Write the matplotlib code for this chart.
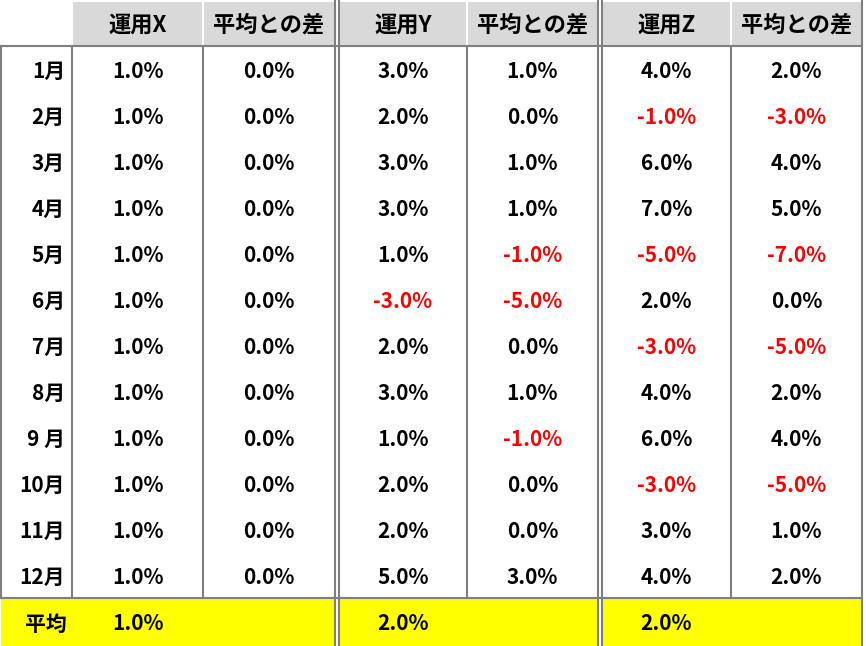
import matplotlib.pyplot as plt
from matplotlib.patches import Rectangle

plt.rcParams['font.family'] = ['Noto Sans CJK JP', 'DejaVu Sans']

months = ['1月', '2月', '3月', '4月', '5月', '6月', '7月', '8月', '9 月', '10月', '11月', '12月']
headers = ['運用X', '平均との差', '運用Y', '平均との差', '運用Z', '平均との差']
avg_label = '平均'

fund_x = [1.0, 1.0, 1.0, 1.0, 1.0, 1.0, 1.0, 1.0, 1.0, 1.0, 1.0, 1.0]
diff_x = [0.0, 0.0, 0.0, 0.0, 0.0, 0.0, 0.0, 0.0, 0.0, 0.0, 0.0, 0.0]
fund_y = [3.0, 2.0, 3.0, 3.0, 1.0, -3.0, 2.0, 3.0, 1.0, 2.0, 2.0, 5.0]
diff_y = [1.0, 0.0, 1.0, 1.0, -1.0, -5.0, 0.0, 1.0, -1.0, 0.0, 0.0, 3.0]
fund_z = [4.0, -1.0, 6.0, 7.0, -5.0, 2.0, -3.0, 4.0, 6.0, -3.0, 3.0, 4.0]
diff_z = [2.0, -3.0, 4.0, 5.0, -7.0, 0.0, -5.0, 2.0, 4.0, -5.0, 1.0, 2.0]
averages = [1.0, 2.0, 2.0]

columns = [fund_x, diff_x, fund_y, diff_y, fund_z, diff_z]

# layout in pixel coordinates
col_bounds = [(72, 203), (203, 335), (339, 467), (467, 598), (602, 731), (731, 862)]
head_top, head_bot = 2, 46
row_h = 46
avg_top, avg_bot = 598, 646

grid = '#7f7f7f'
head_bg = '#d9d9d9'
yellow = '#ffff00'
red = '#ff0000'
fs = 15
fs_head = 16
dy = 2  # small downward nudge of the text

fig = plt.figure(figsize=(8.66, 6.46), dpi=100)
ax = fig.add_axes([0, 0, 1, 1])
ax.set_xlim(0, 866)
ax.set_ylim(646, 0)
ax.axis('off')

# header cells
for (l, r), h in zip(col_bounds, headers):
    ax.add_patch(Rectangle((l + 1, head_top), r - l - 2, head_bot - head_top,
                           facecolor=head_bg, edgecolor='none'))
    ax.text((l + r) / 2, (head_top + head_bot) / 2 + 1, h, ha='center', va='center',
            fontsize=fs_head, fontweight='bold')

# average row background (three merged blocks)
for l, r in [(1, 335), (339, 598), (602, 862)]:
    ax.add_patch(Rectangle((l, avg_top), r - l, avg_bot - avg_top,
                           facecolor=yellow, edgecolor='none'))

# grid lines
lw = 1.5
for x in [1, 72, 203, 467, 731]:
    ax.plot([x, x], [head_bot, avg_top], color=grid, lw=lw)
for x in [335, 339, 598, 602, 862]:
    ax.plot([x, x], [0, avg_bot], color=grid, lw=lw)
for y in [head_bot, avg_top]:
    ax.plot([0, 862], [y, y], color=grid, lw=lw)

# body
for i, m in enumerate(months):
    yc = head_bot + row_h * (i + 0.5) + dy
    ax.text(65, yc, m, ha='right', va='center', fontsize=fs, fontweight='bold')
    for (l, r), vals in zip(col_bounds, columns):
        v = vals[i]
        ax.text((l + r) / 2, yc, f'{v:.1f}%', ha='center', va='center',
                fontsize=fs, fontweight='bold', color=red if v < 0 else 'black')

# average row
yc = (avg_top + avg_bot) / 2 + dy
ax.text(46, yc, avg_label, ha='center', va='center', fontsize=fs, fontweight='bold')
for (l, r), v in zip(col_bounds[::2], averages):
    ax.text((l + r) / 2, yc, f'{v:.1f}%', ha='center', va='center',
            fontsize=fs, fontweight='bold')

fig.savefig('out.png', dpi=100)
